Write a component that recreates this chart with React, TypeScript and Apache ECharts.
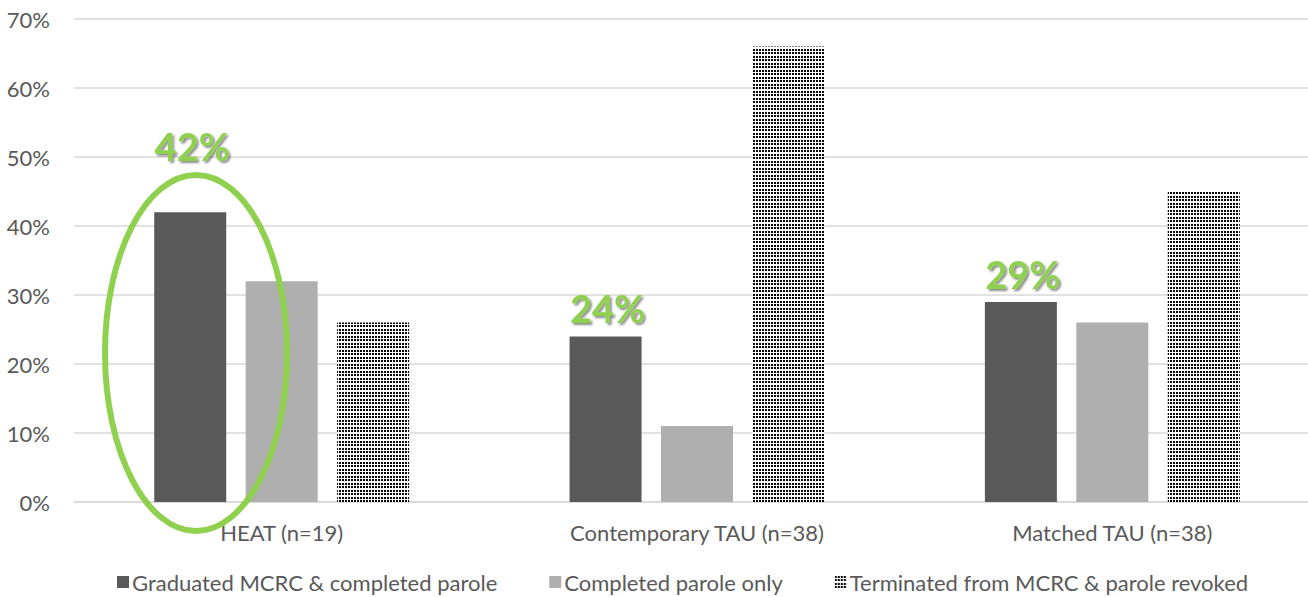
import React, { useEffect, useRef } from "react";
import * as echarts from "echarts";

const categories = ["HEAT (n=19)", "Contemporary TAU (n=38)", "Matched TAU (n=38)"];
const seriesNames = [
  "Graduated MCRC & completed parole",
  "Completed parole only",
  "Terminated from MCRC & parole revoked",
];
const graduated = [42, 24, 29];
const completedOnly = [32, 11, 26];
const terminated = [26, 66, 45];
const yTicks = [0, 10, 20, 30, 40, 50, 60, 70];

const GREEN = "#8fd14f";
const FONT = "Lato, 'Noto Sans', sans-serif";

function dotPattern(): HTMLCanvasElement {
  const c = document.createElement("canvas");
  c.width = 6;
  c.height = 7;
  const ctx = c.getContext("2d")!;
  ctx.fillStyle = "#ffffff";
  ctx.fillRect(0, 0, 6, 7);
  ctx.fillStyle = "#000000";
  for (const [x, y] of [
    [0, 0],
    [3, 0],
    [0, 3],
    [3, 3],
  ]) {
    ctx.fillRect(x, y, 2, 2);
  }
  return c;
}

export default function App() {
  const ref = useRef<HTMLDivElement>(null);

  useEffect(() => {
    if (!ref.current) return;
    const chart = echarts.init(ref.current, undefined, { renderer: "svg" });
    const pattern = { image: dotPattern(), repeat: "repeat" as const };

    const highlightLabel = (offsetY: number) => ({
      show: true,
      position: "top" as const,
      offset: [2, offsetY],
      formatter: "{c}%",
      color: GREEN,
      fontSize: 38,
      fontWeight: "bold" as const,
      fontFamily: FONT,
      textShadowColor: "rgba(0,0,0,0.45)",
      textShadowOffsetX: 2,
      textShadowOffsetY: 2,
      textShadowBlur: 2,
    });

    chart.setOption({
      animation: false,
      grid: {
        left: 74,
        top: 19,
        width: 1246,
        height: 483,
        containLabel: false,
        outerBoundsMode: "none",
      },
      legend: {
        top: 571,
        left: 117,
        padding: 0,
        itemWidth: 12,
        itemHeight: 12,
        itemGap: 52,
        icon: "rect",
        textStyle: { color: "#595959", fontSize: 22, fontFamily: FONT, padding: [0, 0, 0, -2] },
        data: seriesNames,
      },
      xAxis: {
        type: "category",
        data: categories,
        axisLine: { show: true, lineStyle: { color: "#d9d9d9", width: 1.5 } },
        axisTick: { show: false },
        axisLabel: { color: "#595959", fontSize: 22, fontFamily: FONT, margin: 19 },
      },
      yAxis: {
        type: "value",
        min: yTicks[0],
        max: yTicks[yTicks.length - 1],
        interval: 10,
        axisLine: { show: false },
        axisTick: { show: false },
        axisLabel: {
          color: "#595959",
          fontSize: 22,
          fontFamily: FONT,
          margin: 24,
          formatter: "{value}%",
        },
        splitLine: { lineStyle: { color: "#d9d9d9", width: 1.5 } },
      },
      series: [
        {
          name: seriesNames[0],
          type: "bar",
          barWidth: 72,
          barGap: "27%",
          itemStyle: { color: "#595959" },
          data: graduated.map((v, i) => ({
            value: v,
            label: highlightLabel(i === 0 ? -42 : -4),
          })),
        },
        {
          name: seriesNames[1],
          type: "bar",
          barWidth: 72,
          barGap: "27%",
          itemStyle: { color: "#afafaf" },
          data: completedOnly,
        },
        {
          name: seriesNames[2],
          type: "bar",
          barWidth: 72,
          barGap: "27%",
          itemStyle: { color: pattern },
          data: terminated,
        },
      ],
      graphic: [
        {
          type: "ellipse",
          shape: { cx: 196, cy: 353, rx: 91, ry: 178 },
          style: { fill: "none", stroke: GREEN, lineWidth: 6 },
          z: 100,
        },
      ],
    });

    return () => chart.dispose();
  }, []);

  return (
    <div
      ref={ref}
      style={{ position: "fixed", left: 0, top: 0, width: 1308, height: 597, background: "#fff" }}
    />
  );
}
